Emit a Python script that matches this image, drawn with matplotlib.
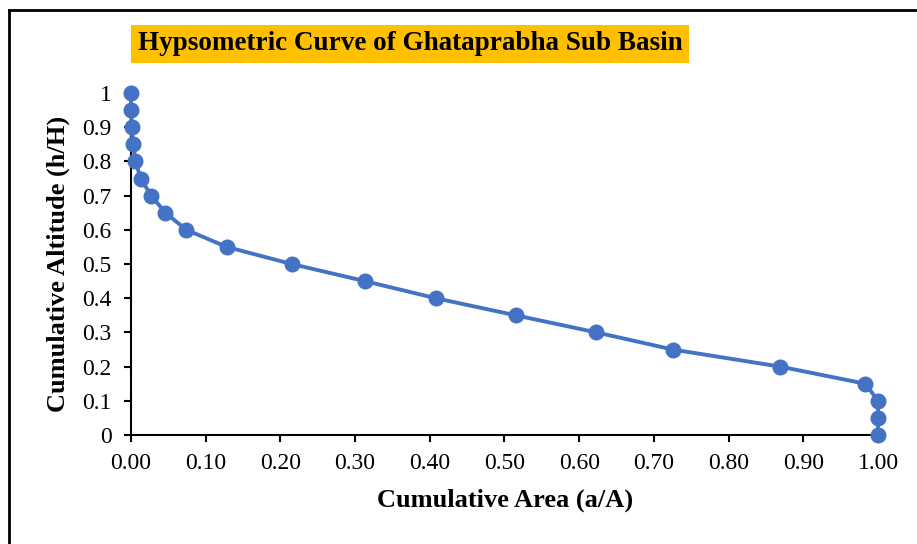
import matplotlib
matplotlib.use("Agg")
import matplotlib.pyplot as plt
from matplotlib.lines import Line2D

area = [0.000, 0.000, 0.001, 0.003, 0.006, 0.013, 0.027, 0.046, 0.074, 0.128,
        0.215, 0.313, 0.408, 0.515, 0.623, 0.725, 0.869, 0.983, 1.000, 1.000, 1.000]
altitude = [1.00, 0.95, 0.90, 0.85, 0.80, 0.75, 0.70, 0.65, 0.60, 0.55,
            0.50, 0.45, 0.40, 0.35, 0.30, 0.25, 0.20, 0.15, 0.10, 0.05, 0.00]
xticks = [0.0, 0.1, 0.2, 0.3, 0.4, 0.5, 0.6, 0.7, 0.8, 0.9, 1.0]
xticklabels = ["0.00", "0.10", "0.20", "0.30", "0.40", "0.50", "0.60", "0.70", "0.80", "0.90", "1.00"]
yticks = [0, 0.1, 0.2, 0.3, 0.4, 0.5, 0.6, 0.7, 0.8, 0.9, 1.0]
yticklabels = ["0", "0.1", "0.2", "0.3", "0.4", "0.5", "0.6", "0.7", "0.8", "0.9", "1"]
title = "Hypsometric Curve of Ghataprabha Sub Basin"
xlabel = "Cumulative Area (a/A)"
ylabel = "Cumulative Altitude (h/H)"

plt.rcParams['font.family'] = ['Liberation Serif', 'DejaVu Serif']

W, H = 917, 544
fig = plt.figure(figsize=(W / 100, H / 100), dpi=100)

# outer frame (only top and left edges visible)
fy = 1 - 9.5 / H
fx = 9 / W
fig.add_artist(Line2D([fx, 1.0], [fy, fy], transform=fig.transFigure, color='black', linewidth=2))
fig.add_artist(Line2D([fx, fx], [0, fy], transform=fig.transFigure, color='black', linewidth=2))

ax = fig.add_axes([131 / W, 1 - 435 / H, (878 - 131) / W, (435 - 93) / H])
ax.set_xlim(0, 1.0)
ax.set_ylim(0, 1.0)
ax.plot(area, altitude, color='#4472C4', linewidth=2.8, marker='o', markersize=10.5,
        clip_on=False, zorder=3)

for s in ['top', 'right']:
    ax.spines[s].set_visible(False)
for s in ['left', 'bottom']:
    ax.spines[s].set_linewidth(1.5)
    ax.spines[s].set_color('black')

ax.set_xticks(xticks)
ax.set_xticklabels(xticklabels)
ax.set_yticks(yticks)
ax.set_yticklabels(yticklabels)
ax.tick_params(axis='both', direction='out', length=5, width=1.5, labelsize=17)
ax.tick_params(axis='y', pad=9)
ax.tick_params(axis='x', pad=8)

fig.text(505 / W, 1 - 500 / H, xlabel, fontsize=19, fontweight='bold', ha='center', va='center')
fig.text(58 / W, 1 - 264 / H, ylabel, fontsize=19, fontweight='bold', ha='center', va='center',
         rotation=90)

fig.text((134 + 686) / 2 / W, 1 - 44 / H, title, fontsize=19.5, fontweight='bold',
         ha='center', va='center',
         bbox=dict(boxstyle='square,pad=0.25', facecolor='#FFC000', edgecolor='none'))

fig.savefig("out.png", dpi=100)
